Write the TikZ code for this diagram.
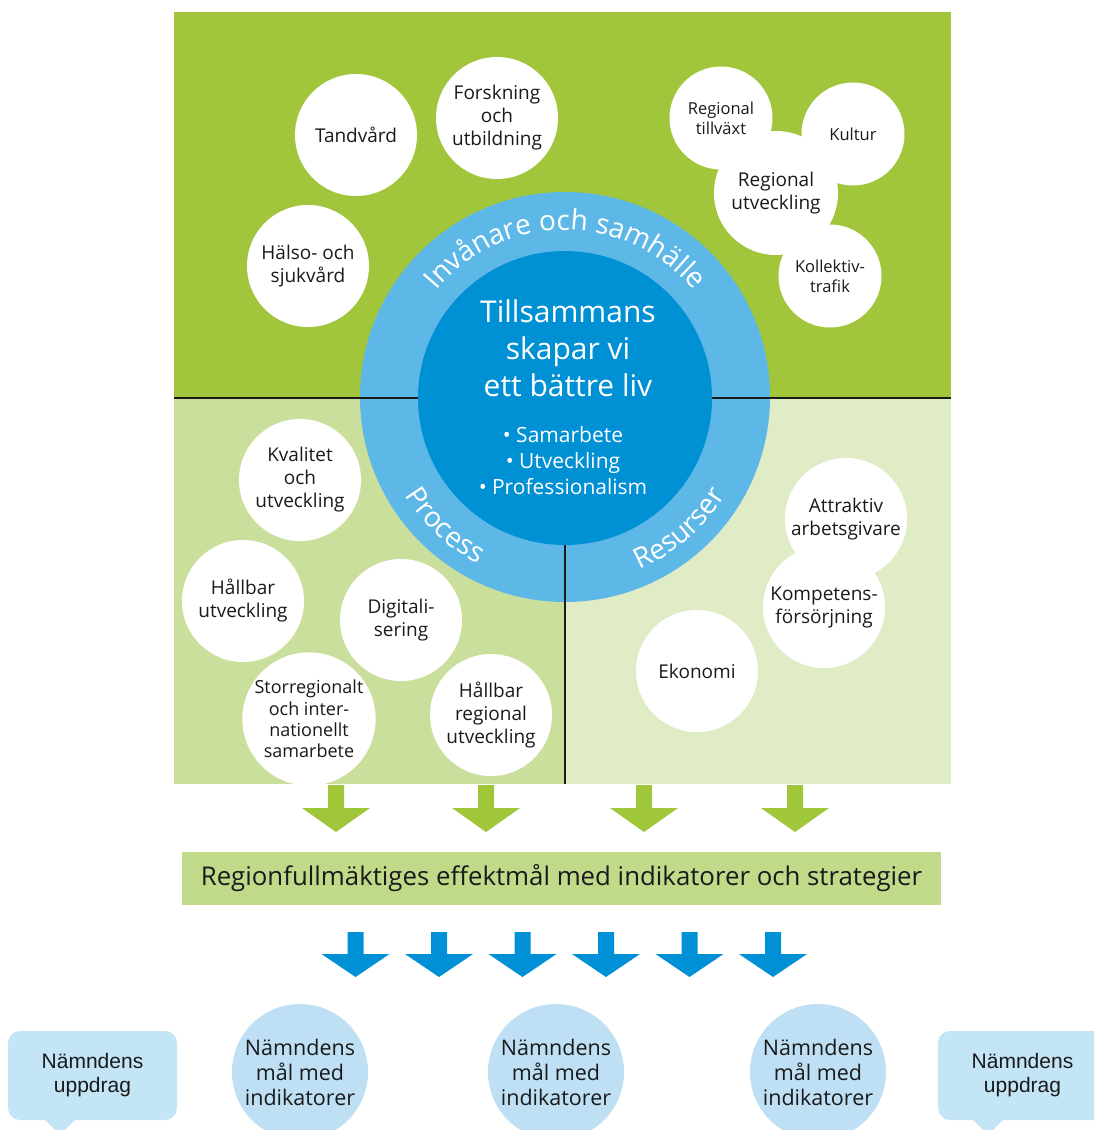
\documentclass[tikz,border=0pt]{standalone}
\usepackage{fontspec}
\setmainfont{Open Sans}
\newfontfamily\arialfont{Liberation Sans}
\usetikzlibrary{decorations.text}
\definecolor{topgreen}{HTML}{A1C63B}
\definecolor{leftgreen}{HTML}{CBDF9D}
\definecolor{rightgreen}{HTML}{E0ECC6}
\definecolor{bandgreen}{HTML}{C1DA8A}
\definecolor{ringblue}{HTML}{5EB8E7}
\definecolor{coreblue}{HTML}{0090D4}
\definecolor{arrowblue}{HTML}{0090D6}
\definecolor{arrowgreen}{HTML}{A0C63A}
\definecolor{paleblue}{HTML}{BEDFF4}
\definecolor{calloutblue}{HTML}{C4E5F6}
\definecolor{inkblack}{HTML}{1A1A1A}
\newcommand\ringfmt{\fontsize{28}{28}\selectfont\color{white}}
\tikzset{
  bubble/.style={circle, fill=white, inner sep=0pt, minimum size=122pt, align=center, text=inkblack, font=\fontsize{19}{23}\selectfont},
  smallbubble/.style={bubble, minimum size=103pt, font=\fontsize{16.5}{20}\selectfont},
  goalcircle/.style={circle, fill=paleblue, inner sep=0pt, minimum size=136pt, align=center, text=inkblack, font=\fontsize{21.5}{25}\selectfont},
  callout/.style={rectangle, fill=calloutblue, rounded corners=12pt, minimum width=169pt, minimum height=89pt, inner sep=0pt, align=center, text=inkblack, font=\arialfont\fontsize{21}{24}\selectfont},
  divider/.style={line width=1.8pt, inkblack},
  greenarrow/.style={fill=arrowgreen},
  bluearrow/.style={fill=arrowblue},
  ringtext/.style={decorate, decoration={text along path, text align=center, text={#1}}},
}
\begin{document}
\begin{tikzpicture}[x=1pt,y=1pt]
\useasboundingbox (0,0) rectangle (1094,-1130);
\clip (0,0) rectangle (1094,-1130);
% panels
\fill[topgreen] (174,-12) rectangle (951,-398);
\fill[leftgreen] (174,-398) rectangle (565,-784);
\fill[rightgreen] (565,-398) rectangle (951,-784);
% ring
\node[circle, fill=ringblue, minimum size=410pt, inner sep=0pt] (ring) at (565,-397) {};
\draw[divider] (174,-398) -- (951,-398);
\draw[divider] (565,-398) -- (565,-784);
\node[circle, fill=coreblue, minimum size=294pt, inner sep=0pt] (core) at (565,-398) {};
\node[align=center, text=white, font=\fontsize{30}{37}\selectfont] (vision) at (568,-348) {Tillsammans\\skapar vi\\ett bättre liv};
\node[align=center, text=white, font=\fontsize{21}{26}\selectfont] (values) at (563,-461) {• Samarbete\\• Utveckling\\• Professionalism};
\path[ringtext={|\ringfmt|Invånare och samhälle}] (ring.center) ++(170:167pt) arc[start angle=170, end angle=10, radius=167pt];
\path[ringtext={|\ringfmt|Process}] (ring.center) ++(197:188pt) arc[start angle=197, end angle=257, radius=188pt];
\path[ringtext={|\ringfmt|Resurser}] (ring.center) ++(281:188pt) arc[start angle=281, end angle=341, radius=188pt];
% top bubbles
\node[bubble] (tandvard) at (356,-135) {Tandvård};
\node[bubble] (forskning) at (497,-118) {Forskning\\och\\utbildning};
\node[bubble] (halso) at (308,-266) {Hälso- och\\sjukvård};
\node[smallbubble] (tillvaxt) at (721,-118) {Regional\\tillväxt};
\node[smallbubble] (kultur) at (853,-134) {Kultur};
\node[bubble, minimum size=124pt] (regutv) at (776,-193) {Regional\\utveckling};
\node[smallbubble] (kollektiv) at (830,-276) {Kollektiv-\\trafik};
% process bubbles
\node[bubble] (kvalitet) at (300,-480) {Kvalitet\\och\\utveckling};
\node[bubble] (hallbar) at (243,-601) {Hållbar\\utveckling};
\node[bubble] (digital) at (401,-620) {Digitali-\\sering};
\node[bubble, font=\fontsize{18}{21.3}\selectfont] (storreg) at (309,-719) {Storregionalt\\och inter-\\nationellt\\samarbete};
\node[bubble] (hallreg) at (491,-715) {Hållbar\\regional\\utveckling};
% resource bubbles
\node[bubble] (attraktiv) at (846,-519) {Attraktiv\\arbetsgivare};
\node[bubble] (kompetens) at (824,-607) {Kompetens-\\försörjning};
\node[bubble] (ekonomi) at (697,-671) {Ekonomi};
% green arrows
\foreach \cx in {336,486,644,795} {
  \fill[greenarrow] (\cx-8,-785) -- (\cx+8,-785) -- (\cx+8,-808) -- (\cx+34,-808) -- (\cx,-832) -- (\cx-34,-808) -- (\cx-8,-808) -- cycle;
}
% band
\node[fill=bandgreen, minimum width=759pt, minimum height=53pt, inner sep=0pt, text=inkblack, font=\fontsize{25.8}{30}\selectfont] (band) at (561.5,-878.5) {Regionfullmäktiges effektmål med indikatorer och strategier};
% blue arrows
\foreach \cx in {355.5,439,522.5,606,689.5,773} {
  \fill[bluearrow] (\cx-8,-932) -- (\cx+8,-932) -- (\cx+8,-954) -- (\cx+34,-954) -- (\cx,-977) -- (\cx-34,-954) -- (\cx-8,-954) -- cycle;
}
% goals
\node[goalcircle] (goalA) at (300,-1072) {Nämndens\\mål med\\indikatorer};
\node[goalcircle] (goalB) at (556,-1072) {Nämndens\\mål med\\indikatorer};
\node[goalcircle] (goalC) at (818,-1072) {Nämndens\\mål med\\indikatorer};
% callouts
\node[callout] (callL) at (92.5,-1075.5) {Nämndens\\uppdrag};
\fill[calloutblue] ([xshift=-48pt,yshift=1pt]callL.south) -- ([xshift=-17pt,yshift=1pt]callL.south) -- ([xshift=-32.5pt,yshift=-15pt]callL.south) -- cycle;
\node[callout] (callR) at (1022.5,-1075.5) {Nämndens\\uppdrag};
\fill[calloutblue] ([xshift=-50pt,yshift=1pt]callR.south) -- ([xshift=-19pt,yshift=1pt]callR.south) -- ([xshift=-34.5pt,yshift=-15pt]callR.south) -- cycle;
\end{tikzpicture}
\end{document}
